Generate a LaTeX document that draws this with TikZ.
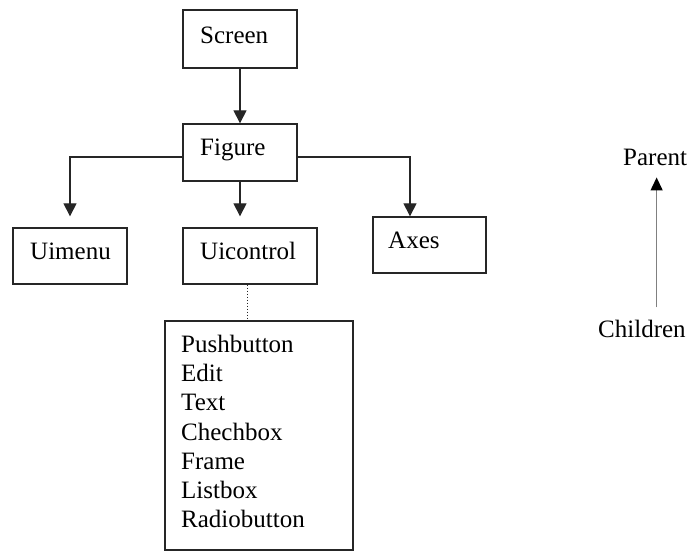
\documentclass[tikz,border=0pt]{standalone}
\usepackage{fontspec}
\setmainfont{Liberation Serif}
\usetikzlibrary{arrows.meta}
\begin{document}
\begin{tikzpicture}[x=1pt,y=-1pt,
  box/.style={draw=black!85,line width=1.3pt,inner sep=0pt},
  lbl/.style={inner sep=0pt,anchor=base west,font=\fontsize{25}{29.3}\selectfont},
  conn/.style={draw=black!85,line width=1.1pt,-{Triangle[length=13pt,width=13pt]}},
]
\useasboundingbox (0,0) rectangle (689,552);
% boxes
\node[box,minimum width=114pt,minimum height=58pt] (scr) at (240,39) {};
\node[box,minimum width=114pt,minimum height=57pt] (fig) at (240,152.5) {};
\node[box,minimum width=114pt,minimum height=56pt] (uim) at (70,256) {};
\node[box,minimum width=134pt,minimum height=56pt] (uic) at (250,256) {};
\node[box,minimum width=113pt,minimum height=56pt] (axe) at (429.5,245) {};
\node[box,minimum width=188pt,minimum height=229pt] (lst) at (259,435.5) {};
% texts
\node[lbl] (tscr) at (200,43) {Screen};
\node[lbl] (tfig) at (200,155) {Figure};
\node[lbl] (tuim) at (30,259) {Uimenu};
\node[lbl] (tuic) at (200,259) {Uicontrol};
\node[lbl] (taxe) at (388,248) {Axes};
\node[inner sep=0pt,anchor=north west,align=left,font=\fontsize{25}{29.2}\selectfont] (tlst) at (181,335)
  {Pushbutton\\Edit\\Text\\Chechbox\\Frame\\Listbox\\Radiobutton};
\node[lbl] (par) at (623,165) {Parent};
\node[lbl] (chi) at (598,337) {Children};
% connectors
\draw[conn] (scr.south) -- (fig.north);
\draw[conn] ([yshift=-4.5pt]fig.west) -| ([yshift=11pt]uim.north);
\draw[conn] (fig.south) -- ([yshift=11pt]fig.south |- uic.north);
\draw[conn] ([yshift=-4.5pt]fig.east) -| ([xshift=-19.5pt]axe.north);
\draw[black!85,line width=1pt,dotted] ([xshift=-3pt]uic.south) -- ([xshift=-12pt]lst.north);
\draw[draw=black!50,line width=1.3pt,-{Triangle[length=13pt,width=12pt,color=black]}]
  ([xshift=1.5pt,yshift=12pt]par.south |- chi.north) -- ([xshift=1.5pt,yshift=-12pt]par.south);
\end{tikzpicture}
\end{document}
